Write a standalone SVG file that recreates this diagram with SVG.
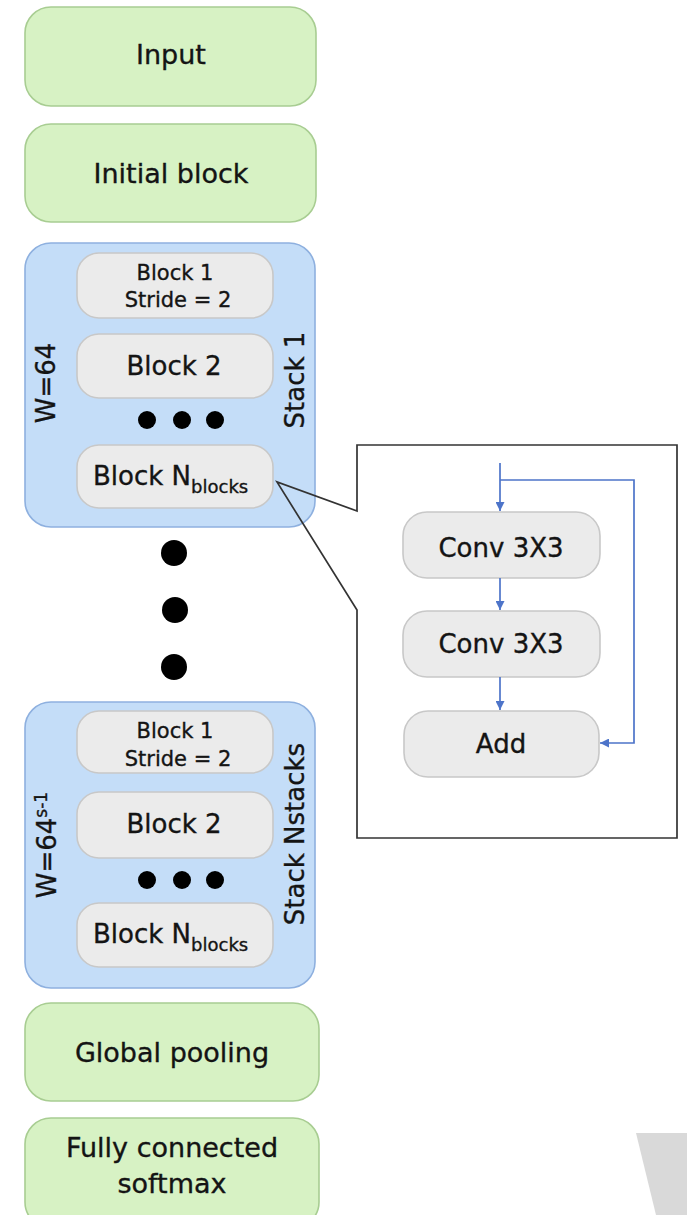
<svg xmlns="http://www.w3.org/2000/svg" width="687" height="1215" viewBox="0 0 687 1215">
<style>
text{font-family:"DejaVu Sans","Liberation Sans",sans-serif;fill:#141414;stroke:#141414;stroke-width:0.35;}
.green{fill:#d7f2c4;stroke:#a8cd92;stroke-width:1.6;}
.stack{fill:#c4ddf8;stroke:#8eb0df;stroke-width:1.6;}
.blk{fill:#ebebeb;stroke:#c8c8c8;stroke-width:1.6;}
.big{font-size:27px;text-anchor:middle;}
.mid{font-size:26px;text-anchor:middle;}
.sm{font-size:21px;text-anchor:middle;}
.dot{fill:#000;}
.arr{fill:none;stroke:#4d74c9;stroke-width:1.7;}
</style>
<defs>
<marker id="ah" viewBox="0 0 10 10" refX="10" refY="5" markerWidth="10" markerHeight="9" markerUnits="userSpaceOnUse" orient="auto">
<path d="M0,0 L10,5 L0,10 Z" fill="#4d74c9"/>
</marker>
</defs>
<rect width="687" height="1215" fill="#fff"/>

<g id="input"><rect class="green" x="25" y="7" width="291" height="99" rx="26"/><text class="big" x="171" y="64">Input</text></g>
<g id="initial"><rect class="green" x="25" y="124" width="291" height="98" rx="26"/><text class="big" x="171" y="183">Initial block</text></g>

<g id="stack1">
<rect class="stack" x="25" y="243" width="290" height="284" rx="26"/>
<text class="mid" transform="translate(55,383) rotate(-90)">W=64</text>
<text class="mid" transform="translate(304,380) rotate(-90)">Stack 1</text>
<g id="s1b1"><rect class="blk" x="77" y="253" width="196" height="65" rx="22"/><text class="sm" x="175" y="280">Block 1</text><text class="sm" x="178" y="307">Stride = 2</text></g>
<g id="s1b2"><rect class="blk" x="77" y="334" width="196" height="64" rx="22"/><text class="mid" x="174" y="375">Block 2</text></g>
<circle class="dot" cx="147" cy="420" r="9"/><circle class="dot" cx="182" cy="420" r="9"/><circle class="dot" cx="215" cy="420" r="9"/>
<g id="s1bn"><rect class="blk" x="77" y="445" width="196" height="63" rx="22"/><text x="93" y="485" style="font-size:26px">Block N<tspan dy="8" style="font-size:18px">blocks</tspan></text></g>
</g>

<g id="ellipsis">
<circle class="dot" cx="174" cy="553" r="13"/><circle class="dot" cx="175" cy="610" r="13"/><circle class="dot" cx="174" cy="667" r="13"/>
</g>

<g id="stackN">
<rect class="stack" x="25" y="702" width="290" height="286" rx="26"/>
<text transform="translate(56,845) rotate(-90)" style="font-size:26px" text-anchor="middle">W=64<tspan dy="-9" style="font-size:17px">s-1</tspan></text>
<text class="mid" transform="translate(304,834) rotate(-90)">Stack Nstacks</text>
<g id="snb1"><rect class="blk" x="77" y="711" width="196" height="62" rx="22"/><text class="sm" x="175" y="738">Block 1</text><text class="sm" x="178" y="766">Stride = 2</text></g>
<g id="snb2"><rect class="blk" x="77" y="792" width="196" height="66" rx="22"/><text class="mid" x="174" y="833">Block 2</text></g>
<circle class="dot" cx="147" cy="880" r="9"/><circle class="dot" cx="182" cy="880" r="9"/><circle class="dot" cx="215" cy="880" r="9"/>
<g id="snbn"><rect class="blk" x="77" y="903" width="196" height="64" rx="22"/><text x="93" y="943" style="font-size:26px">Block N<tspan dy="8" style="font-size:18px">blocks</tspan></text></g>
</g>

<g id="pool"><rect class="green" x="25" y="1003" width="294" height="98" rx="26"/><text class="big" x="172" y="1062">Global pooling</text></g>
<g id="fc"><rect class="green" x="25" y="1118" width="294" height="110" rx="26"/><text class="big" x="172" y="1157">Fully connected</text><text class="big" x="172" y="1193">softmax</text></g>

<g id="callout">
<path d="M357,511 L277,482 L357,610 L357,838 L677,838 L677,445 L357,445 Z" fill="none" stroke="#333" stroke-width="1.7"/>
<g id="conv1"><rect class="blk" x="403" y="512" width="197" height="66" rx="24"/><text class="mid" x="501" y="557">Conv 3X3</text></g>
<g id="conv2"><rect class="blk" x="403" y="611" width="197" height="66" rx="24"/><text class="mid" x="501" y="653">Conv 3X3</text></g>
<g id="add"><rect class="blk" x="404" y="711" width="195" height="66" rx="24"/><text class="mid" x="501" y="753">Add</text></g>
</g>

<g id="connectors">
<path class="arr" d="M500,463 L500,511" marker-end="url(#ah)"/>
<path class="arr" d="M500,480 L634,480 L634,743 L600,743" marker-end="url(#ah)"/>
<path class="arr" d="M500,578 L500,610" marker-end="url(#ah)"/>
<path class="arr" d="M500,677 L500,710" marker-end="url(#ah)"/>
</g>

<polygon points="636,1133 687,1133 687,1215 656,1215" fill="#d9d9d9"/>
</svg>
